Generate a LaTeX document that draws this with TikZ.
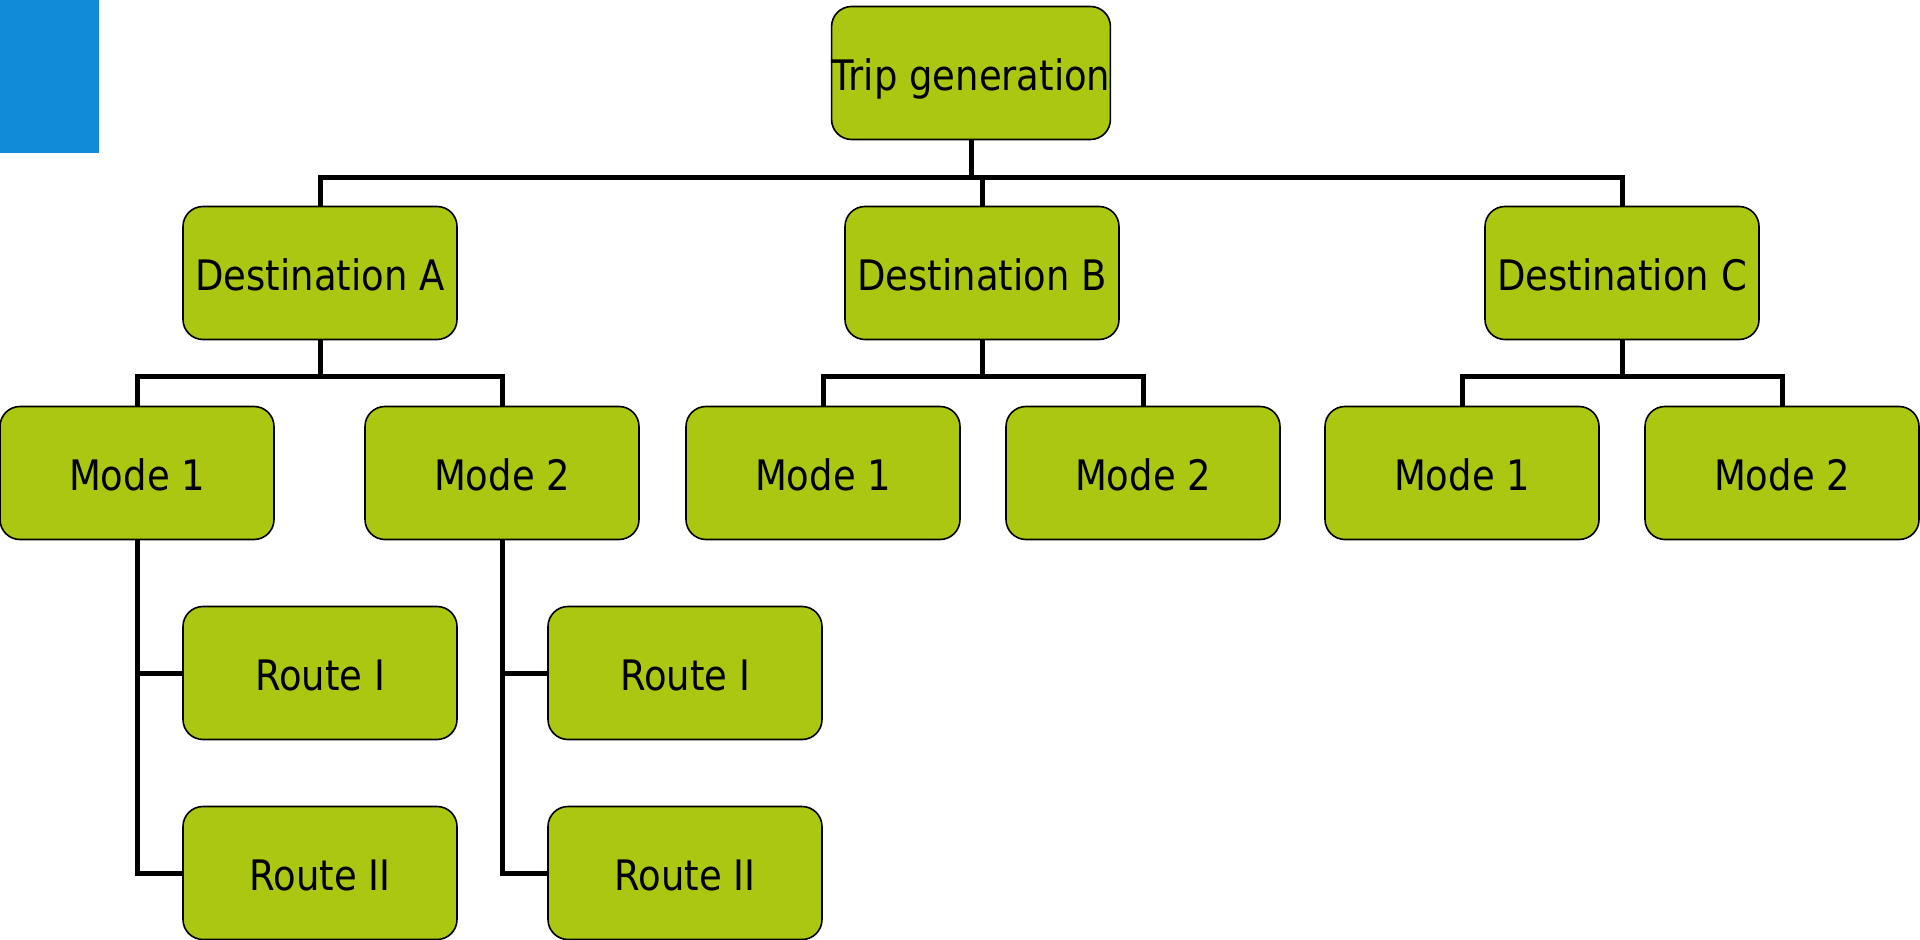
\documentclass[tikz,border=0pt]{standalone}
\usepackage{fontspec}
\setmainfont{DejaVu Sans}[FakeStretch=0.88]
\definecolor{boxgreen}{HTML}{ACC712}
\definecolor{tabblue}{HTML}{118AD8}
\tikzset{
  box/.style={draw=black, line width=0.8pt, fill=boxgreen, rounded corners=10pt,
    minimum width=137pt, minimum height=66.5pt, inner sep=0pt,
    text height=17.5pt, text depth=0pt,
    font=\fontsize{21pt}{25pt}\selectfont},
  conn/.style={draw=black, line width=2.5pt, line join=miter}
}
\begin{document}
\begin{tikzpicture}[x=0.5pt, y=-0.5pt]
\useasboundingbox (0,0) rectangle (1920,940);
% corner tab
\fill[tabblue] (0,0) rectangle (99,153);

% bus levels for the elbow connectors
\coordinate (busTop) at (0,178);
\coordinate (busMid) at (0,377);

% boxes, level by level
\node[box] (trip)  at (971,73)  {Trip generation};
\node[box] (destA) at (320,273) {Destination A};
\node[box] (destB) at (982,273) {Destination B};
\node[box] (destC) at (1622,273) {Destination C};
\node[box] (m1a) at (137,473)  {Mode 1};
\node[box] (m2a) at (502,473)  {Mode 2};
\node[box] (m1b) at (823,473)  {Mode 1};
\node[box] (m2b) at (1143,473) {Mode 2};
\node[box] (m1c) at (1462,473) {Mode 1};
\node[box] (m2c) at (1782,473) {Mode 2};
\node[box] (r1a) at (320,673) {Route I};
\node[box] (r2a) at (320,873) {Route II};
\node[box] (r1b) at (685,673) {Route I};
\node[box] (r2b) at (685,873) {Route II};

% trip -> destinations
\draw[conn] (trip.south) -- (trip.south |- busTop);
\draw[conn] (destA.north) |- (destC.north |- busTop) -- (destC.north);
\draw[conn] (destB.north) -- (destB.north |- busTop);

% destinations -> modes
\draw[conn] (destA.south) -- (destA.south |- busMid);
\draw[conn] (m1a.north) |- (m2a.north |- busMid) -- (m2a.north);
\draw[conn] (destB.south) -- (destB.south |- busMid);
\draw[conn] (m1b.north) |- (m2b.north |- busMid) -- (m2b.north);
\draw[conn] (destC.south) -- (destC.south |- busMid);
\draw[conn] (m1c.north) |- (m2c.north |- busMid) -- (m2c.north);

% modes -> routes
\draw[conn] (m1a.south) |- (r2a.west);
\draw[conn] (r1a.west) -- (r1a.west -| m1a.south);
\draw[conn] (m2a.south) |- (r2b.west);
\draw[conn] (r1b.west) -- (r1b.west -| m2a.south);
\end{tikzpicture}
\end{document}
